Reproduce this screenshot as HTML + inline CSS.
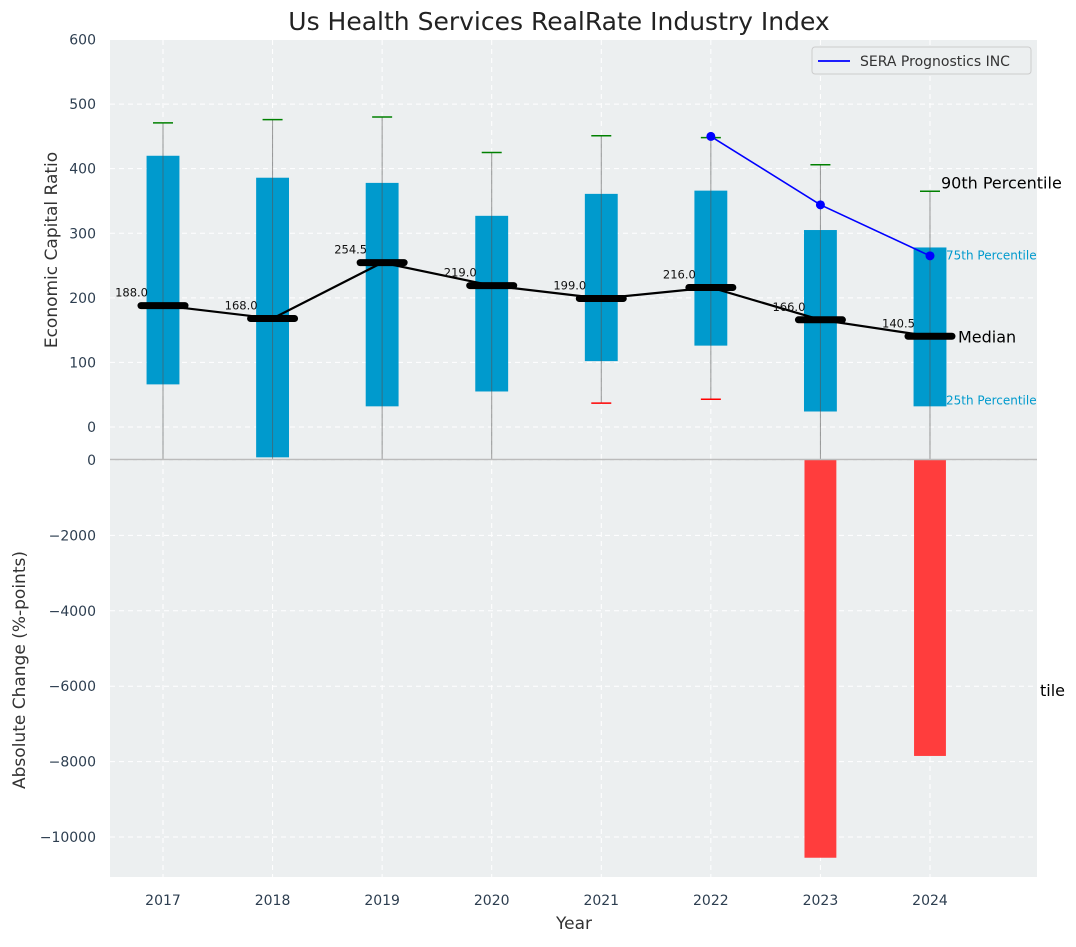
<!DOCTYPE html>
<html><head><meta charset="utf-8"><style>
body{margin:0;background:#fff;font-family:"Liberation Sans","DejaVu Sans",sans-serif}
svg text{font-family:"DejaVu Sans","Liberation Sans",sans-serif}
</style></head><body>
<svg id="c" width="1076" height="942" xmlns="http://www.w3.org/2000/svg">
<text x="559" y="30" font-size="25" text-anchor="middle" fill="#222">Us Health Services RealRate Industry Index</text>
<rect x="110" y="40" width="927" height="419" fill="#eceff0"/>
<rect x="110" y="460" width="927" height="417" fill="#eceff0"/>
<g id="grid"></g><g id="marks"></g><g id="axes"></g>
<line x1="110" y1="459.5" x2="1037" y2="459.5" stroke="#bbb" stroke-width="1.5"/>
<text transform="translate(57,250) rotate(-90)" font-size="17" text-anchor="middle" fill="#333">Economic Capital Ratio</text>
<text transform="translate(25,670) rotate(-90)" font-size="17" text-anchor="middle" fill="#333">Absolute Change (%-points)</text>
<text x="574" y="929" font-size="17" text-anchor="middle" fill="#333">Year</text>
<g>
<rect x="812" y="47" width="219" height="27" fill="#eceff0" stroke="#ccc" rx="3"/>
<line x1="818" y1="61" x2="850" y2="61" stroke="#0000ff" stroke-width="1.8"/>
<text x="860" y="66" font-size="14" fill="#333">SERA Prognostics INC</text>
</g>
</svg>
<script>
const years=[2017,2018,2019,2020,2021,2022,2023,2024];
const p10=[-120,-120,-120,-120,37,43,-120,-120];
const p25=[66,-47,32,55,102,126,24,32];
const median=[188,168,254.5,219,199,216,166,140.5];
const p75=[420,386,378,327,361,366,305,278];
const p90=[471,476,480,425,451,448,406,365];
const seraYears=[2022,2023,2024];
const seraVals=[450,344,265];
const changeYears=[2023,2024];
const changeVals=[-10550,-7850];
const topTicks=[0,100,200,300,400,500,600];
const botTicks=[0,-2000,-4000,-6000,-8000,-10000];

const NS="http://www.w3.org/2000/svg";
const X=y=>163+(y-2017)*109.57;
const YT=v=>427-v*0.6458;
const YB=v=>460-v*0.0377;
const clampT=v=>Math.max(40,Math.min(459,v));
function mk(p,t,a){const e=document.createElementNS(NS,t);for(const k in a)e.setAttribute(k,a[k]);document.getElementById(p).appendChild(e);return e;}
topTicks.forEach(t=>{
 const g=mk('grid','line',{x1:110,x2:1037,y1:YT(t),y2:YT(t),stroke:'#fff','stroke-dasharray':'5,4','stroke-width':1});
 
 
 const l=mk('axes','text',{x:96,y:YT(t)+5,'font-size':14,'text-anchor':'end',fill:'#2d3e50'});l.textContent=t;
 
 
});
botTicks.forEach(t=>{
 const g=mk('grid','line',{x1:110,x2:1037,y1:YB(t),y2:YB(t),stroke:'#fff','stroke-dasharray':'5,4','stroke-width':1});
 
 
 const l=mk('axes','text',{x:96,y:YB(t)+5,'font-size':14,'text-anchor':'end',fill:'#2d3e50'});l.textContent=(t<0?'\u2212'+(-t):t);
 
 
});
years.forEach(y=>{
 [[40,459],[460,877]].forEach(r=>{const g=mk('grid','line',{x1:X(y),x2:X(y),y1:r[0],y2:r[1],stroke:'#fff','stroke-dasharray':'5,4'});
 
 });
 const l=mk('axes','text',{x:X(y),y:905,'font-size':14,'text-anchor':'middle',fill:'#2d3e50'});l.textContent=y;
 
 
});
const bw=0.3*109.57;
years.forEach((y,i)=>{
 const x=X(y);
 const b=mk('marks','rect',{x:x-bw/2,y:clampT(YT(p75[i])),width:bw,height:clampT(YT(p25[i]))-clampT(YT(p75[i])),fill:'#009acd'});
 
 
 const w=mk('marks','line',{x1:x,x2:x,y1:clampT(YT(p90[i])),y2:clampT(YT(p10[i])),stroke:'#555','stroke-opacity':0.6,'stroke-width':1});
 
 
 const c=mk('marks','line',{x1:x-10,x2:x+10,y1:YT(p90[i]),y2:YT(p90[i]),stroke:'green','stroke-width':1.5});
 
 
 if(YT(p10[i])<459){const c2=mk('marks','line',{x1:x-10,x2:x+10,y1:YT(p10[i]),y2:YT(p10[i]),stroke:'red','stroke-width':1.5});
 
 }
});
const ml=mk('marks','polyline',{points:years.map((y,i)=>X(y)+','+YT(median[i])).join(' '),fill:'none',stroke:'#000','stroke-width':2.2});


years.forEach((y,i)=>{
 const m=mk('marks','line',{x1:X(y)-22,x2:X(y)+22,y1:YT(median[i]),y2:YT(median[i]),stroke:'#000','stroke-width':7,'stroke-linecap':'round'});
 
 
 const t=mk('marks','text',{x:X(y)-15,y:YT(median[i])-9,'font-size':11.5,'text-anchor':'end',fill:'#111'});t.textContent=median[i].toFixed(1);
 
 
});
const sl=mk('marks','polyline',{points:seraYears.map((y,i)=>X(y)+','+YT(seraVals[i])).join(' '),fill:'none',stroke:'#0000ff','stroke-width':1.6});


seraYears.forEach((y,i)=>{const d=mk('marks','circle',{cx:X(y),cy:YT(seraVals[i]),r:4.5,fill:'#0000ff'});
 
 });
changeYears.forEach((y,i)=>{const r=mk('marks','rect',{x:X(y)-bw/2+0.5,y:YB(0),width:bw-1,height:YB(changeVals[i])-YB(0),fill:'#ff3d3d'});
 
 });
const L=years.length-1,lx=X(years[L]);
function ann(txt,x,y,fs,col,name){const t=mk('marks','text',{x:x,y:y,'font-size':fs,fill:col});t.textContent=txt;
 
 return t;}
ann('90th Percentile',lx+11,YT(p90[L])-3,16,'#000','p90-annotation');
ann('75th Percentile',lx+16,YT(p75[L])+12,12,'#009acd','p75-annotation');
ann('Median',lx+28,YT(median[L])+6,16,'#000','median-annotation');
ann('25th Percentile',lx+16,YT(p25[L])-2,12,'#009acd','p25-annotation');
ann('tile',1040,696,16,'#000','p10-annotation');
</script>
</body></html>
